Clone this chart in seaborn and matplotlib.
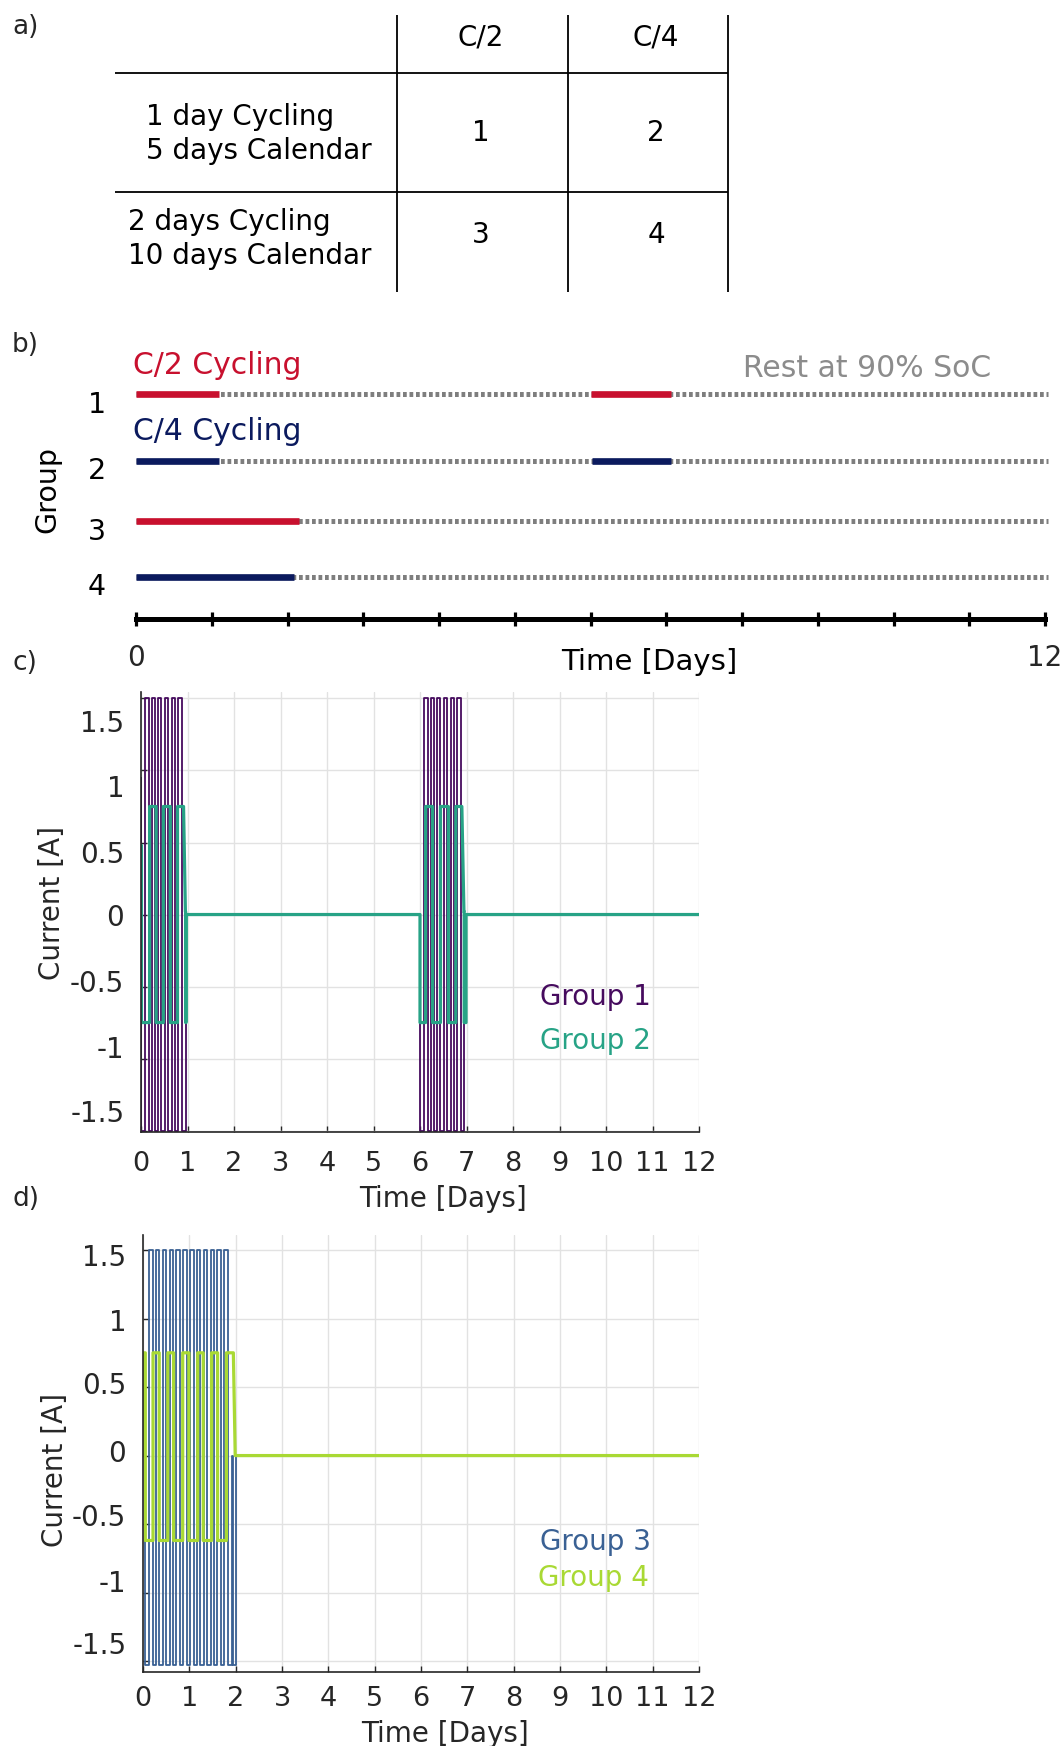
import numpy as np
import pandas as pd
import matplotlib
matplotlib.use("Agg")
import matplotlib.pyplot as plt
import matplotlib.transforms as mtransforms
import seaborn as sns

# ---------------- data ----------------
# panel a (table)
col_labels = ["C/2", "C/4"]
row_labels = [["1 day Cycling", "5 days Calendar"], ["2 days Cycling", "10 days Calendar"]]
cell_values = [[1, 2], [3, 4]]

# panel b (schedule, days)
groups = [1, 2, 3, 4]
cycling_periods = {1: [(0.0, 1.1), (6.0, 7.06)],
                   2: [(0.0, 1.1), (6.02, 7.06)],
                   3: [(0.0, 2.15)],
                   4: [(0.0, 2.08)]}
rest_end = 12.04
sched_labels = ["C/2 Cycling", "C/4 Cycling", "Rest at 90% SoC"]

# panel c (current, A vs days)
g1_t = [0.0, 0.0, 0.005, 0.085, 0.163, 0.227, 0.30, 0.37, 0.44, 0.51, 0.59, 0.66, 0.73, 0.80, 0.88, 0.97,
        6.0, 6.085, 6.163, 6.227, 6.30, 6.37, 6.44, 6.51, 6.59, 6.66, 6.73, 6.80, 6.88, 6.95, 12.0]
g1_I = [0.0, 0.95, -1.5, 1.5, -1.5, 1.5, -1.5, 1.5, -1.5, 1.5, -1.5, 1.5, -1.5, 1.5, -1.5, 0.0,
        -1.5, 1.5, -1.5, 1.5, -1.5, 1.5, -1.5, 1.5, -1.5, 1.5, -1.5, 1.5, -1.5, 0.0, 0.0]
g2_t = [0, 0, 0.01, 0.01, 0.185, 0.185, 0.325, 0.325, 0.48, 0.48, 0.63, 0.63, 0.785, 0.785, 0.915, 0.955,
        0.96, 0.96, 0.97, 0.97, 6.0, 6.0, 6.12, 6.12, 6.27, 6.27, 6.44, 6.44, 6.61, 6.61, 6.77, 6.77,
        6.90, 6.945, 6.95, 6.95, 6.99, 6.99, 12.0]
g2_I = [0, 0.48, 0.48, -0.75, -0.75, 0.75, 0.75, -0.75, -0.75, 0.75, 0.75, -0.75, -0.75, 0.75, 0.75, 0.02,
        0.02, -0.75, -0.75, 0, 0, -0.75, -0.75, 0.75, 0.75, -0.75, -0.75, 0.75, 0.75, -0.75, -0.75, 0.75,
        0.75, 0.02, 0.02, -0.75, -0.75, 0, 0]

# panel d
g3_t = [0.0, 0.05, 0.13, 0.207, 0.278, 0.355, 0.425, 0.502, 0.573, 0.650, 0.720, 0.797, 0.868, 0.945,
        1.015, 1.092, 1.163, 1.240, 1.310, 1.387, 1.458, 1.535, 1.605, 1.682, 1.753, 1.830,
        1.92, 1.935, 2.0, 12.0]
g3_I = [0.0, -1.53, 1.5, -1.53, 1.5, -1.53, 1.5, -1.53, 1.5, -1.53, 1.5, -1.53, 1.5, -1.53,
        1.5, -1.53, 1.5, -1.53, 1.5, -1.53, 1.5, -1.53, 1.5, -1.53, 1.5, -1.53,
        0.0, -1.53, 0.0, 0.0]
g4_t = [0, 0.02, 0.05, 0.05, 0.216, 0.216, 0.35, 0.35, 0.535, 0.535, 0.66, 0.66, 0.857, 0.857, 0.99, 0.99,
        1.18, 1.18, 1.30, 1.30, 1.48, 1.48, 1.61, 1.61, 1.80, 1.80, 1.95, 1.99, 12.0]
g4_I = [0, 0.75, 0.75, -0.62, -0.62, 0.75, 0.75, -0.62, -0.62, 0.75, 0.75, -0.62, -0.62, 0.75, 0.75, -0.62,
        -0.62, 0.75, 0.75, -0.62, -0.62, 0.75, 0.75, -0.62, -0.62, 0.75, 0.75, 0.0, 0.0]

x_ticks = list(range(13))
y_ticks = [-1.5, -1, -0.5, 0, 0.5, 1, 1.5]
y_tick_labels = ["-1.5", "-1", "-0.5", "0", "0.5", "1", "1.5"]

# ---------------- style ----------------
sns.set_theme(style="white")
plt.rcParams["font.family"] = ["DejaVu Sans"]
plt.rcParams["axes.unicode_minus"] = False

W, H = 1062, 1746
fig = plt.figure(figsize=(W / 100, H / 100), dpi=100)


def rect(l, t, r, b):
    return [l / W, 1 - b / H, (r - l) / W, (b - t) / H]


RED = "#C8102E"
NAVY = "#0B1A5E"
GRAY = "#7E7E7E"
TXTGRAY = "#8C8C8C"
C1, C2, C3, C4 = "#460B5E", "#27A386", "#3A6194", "#A9D934"
DARK = "#262626"

# ---------------- panel a ----------------
ax_a = fig.add_axes(rect(0, 0, W, 300))
ax_a.set_xlim(0, W)
ax_a.set_ylim(300, 0)
ax_a.axis("off")
col_x = [481, 656]
row_y = [134, 239]
row_text_x = [146, 128]
ax_a.vlines([397, 568, 728], 15, 292, color="black", lw=1.3)
ax_a.hlines([72.7, 191.7], 115, 728, color="black", lw=1.3)
for cx, lab in zip(col_x, col_labels):
    ax_a.text(cx, 37, lab, ha="center", va="center", fontsize=20, color="black")
for i, (lines, ry) in enumerate(zip(row_labels, row_y)):
    ax_a.text(row_text_x[i], ry - 17, lines[0], ha="left", va="center", fontsize=20, color="black")
    ax_a.text(row_text_x[i], ry + 17, lines[1], ha="left", va="center", fontsize=20, color="black")
    for j, cx in enumerate(col_x):
        ax_a.text(cx, ry - 1 if i == 0 else ry - 4, str(cell_values[i][j]),
                  ha="center", va="center", fontsize=20, color="black")

fig.text(12 / W, 1 - 27 / H, "a)", ha="left", va="center", fontsize=19)
fig.text(12 / W, 1 - 345 / H, "b)", ha="left", va="center", fontsize=19)
fig.text(12 / W, 1 - 663 / H, "c)", ha="left", va="center", fontsize=19)
fig.text(12 / W, 1 - 1199 / H, "d)", ha="left", va="center", fontsize=19)

# ---------------- panel b ----------------
ax_b = fig.add_axes(rect(136, 330, 1045, 618.7))
ax_b.set_xlim(0, 12)
ax_b.set_ylim(4.685, -0.056)
row_pos = {1: 1.0, 2: 2.095, 3: 3.085, 4: 4.0}
for g in groups:
    y = row_pos[g]
    ax_b.hlines(y, 0, rest_end, color=GRAY, lw=3.6, linestyles=[(0, (0.75, 0.55))], clip_on=False)
    col = RED if g in (1, 3) else NAVY
    for s, e in cycling_periods[g]:
        ax_b.hlines(y, s, e, color=col, lw=4.8, clip_on=False)
        ax_b.collections[-1].set_capstyle("butt")
    ax_b.text(-0.52, y + 0.17, str(g), ha="center", va="center", fontsize=20.5, color="black")
ax_b.text(-0.04, 0.52, sched_labels[0], ha="left", va="center", fontsize=21.5, color=RED)
ax_b.text(-0.04, 1.61, sched_labels[1], ha="left", va="center", fontsize=21.5, color=NAVY)
ax_b.text(11.29, 0.57, sched_labels[2], ha="right", va="center", fontsize=21.5, color=TXTGRAY)
for sp in ["top", "right", "left"]:
    ax_b.spines[sp].set_visible(False)
ax_b.spines["bottom"].set_linewidth(3.6)
ax_b.spines["bottom"].set_color("black")
ax_b.set_yticks([])
ax_b.set_xticks(x_ticks)
ax_b.set_xticklabels(["0"] + [""] * 11 + ["12"])
ax_b.set_xticks([0, 12], minor=True)
ax_b.tick_params(axis="x", which="major", direction="inout", length=10, width=2.3, color="black",
                 labelsize=20, pad=13, bottom=True)
ax_b.tick_params(axis="x", which="minor", direction="inout", length=21, width=2.3, color="black", bottom=True)
ax_b.set_xlabel("Time [Days]", fontsize=21, color="black")
ax_b.xaxis.set_label_coords(0.565, -0.15)
ax_b.xaxis.label.set_va("center")
ax_b.set_ylabel("Group", fontsize=20.5, color="black")
ax_b.yaxis.set_label_coords(-0.097, 0.446)
ax_b.yaxis.label.set_va("center")
ax_b.patch.set_alpha(0)


# ---------------- panels c, d ----------------
def current_panel(ax, series, ylim, legend_pos, label_shift, xpad):
    for (t, I, col, lw, steps, name), (lx, ly) in zip(series, legend_pos):
        df = pd.DataFrame({"Time [Days]": t, "Current [A]": I})
        kw = dict(drawstyle="steps-post") if steps else {}
        sns.lineplot(data=df, x="Time [Days]", y="Current [A]", ax=ax, color=col, lw=lw,
                     estimator=None, sort=False, **kw)
        ax.text(lx, ly, name, transform=ax.transAxes, ha="left", va="center", fontsize=20, color=col)
    ax.set_xlim(0, 12)
    ax.set_ylim(*ylim)
    ax.set_xticks(x_ticks)
    ax.set_xticklabels([str(v) for v in x_ticks])
    ax.set_yticks(y_ticks)
    ax.set_yticklabels(y_tick_labels)
    ax.grid(True, color="#E2E2E2", lw=1.0)
    ax.set_axisbelow(True)
    for sp in ["top", "right"]:
        ax.spines[sp].set_visible(False)
    for sp in ["left", "bottom"]:
        ax.spines[sp].set_color(DARK)
        ax.spines[sp].set_linewidth(1.2)
    ax.tick_params(axis="both", direction="in", length=4, width=1, color=DARK, labelcolor=DARK,
                   left=True, bottom=True)
    ax.tick_params(axis="y", pad=12, labelsize=20)
    ax.tick_params(axis="x", pad=xpad, labelsize=19.5)
    ax.set_xlabel("Time [Days]", fontsize=20, color=DARK)
    ax.set_ylabel("Current [A]", fontsize=20, color=DARK)
    ax.xaxis.label.set_va("center")
    ax.yaxis.label.set_va("center")
    # the reference's y tick labels sit slightly off their grid lines
    for lab, dy in zip(ax.get_yticklabels(), label_shift):
        lab.set_transform(lab.get_transform() +
                          mtransforms.ScaledTranslation(0, -dy / 100, fig.dpi_scale_trans))


ax_c = fig.add_axes(rect(141, 692, 699, 1132))
current_panel(ax_c,
              [(g1_t, g1_I, C1, 1.3, True, "Group 1"), (g2_t, g2_I, C2, 2.3, False, "Group 2")],
              (-1.51, 1.545), [(0.715, 0.307), (0.715, 0.207)],
              [-20, -12, -6, 0, 9, 16, 23], 14)
ax_c.xaxis.set_label_coords(0.541, -0.152)
ax_c.yaxis.set_label_coords(-0.16, 0.52)

ax_d = fig.add_axes(rect(143, 1235, 699, 1672))
current_panel(ax_d,
              [(g3_t, g3_I, C3, 1.3, True, "Group 3"), (g4_t, g4_I, C4, 2.3, False, "Group 4")],
              (-1.58, 1.61), [(0.714, 0.297), (0.71, 0.215)],
              [-18, -12, -9, -5, -4, 1, 5], 10)
ax_d.xaxis.set_label_coords(0.543, -0.142)
ax_d.yaxis.set_label_coords(-0.158, 0.462)

fig.savefig("out.png", dpi=100)
